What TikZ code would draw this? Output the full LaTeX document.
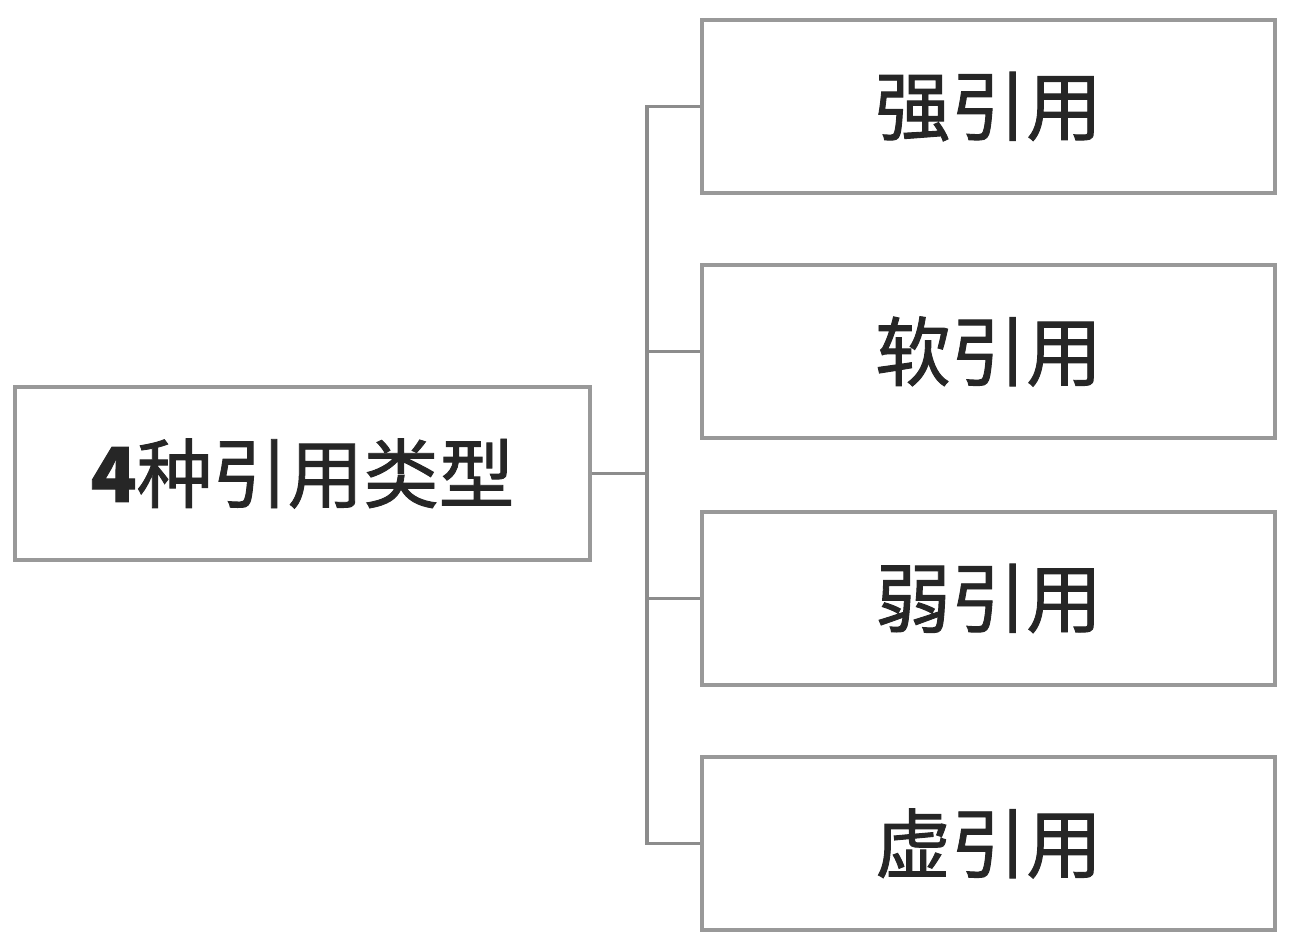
\documentclass[tikz,border=0pt]{standalone}
\usepackage{fontspec}
\newfontfamily\cjk[FakeBold=1.2]{Noto Sans CJK SC}
\begin{document}
\begin{tikzpicture}[x=0.02cm,y=-0.02cm,
  box/.style={draw=black!40,line width=1.8pt,minimum width=11.5cm,minimum height=3.46cm,inner sep=0pt,font=\cjk\fontsize{43}{45}\selectfont,text=black!85},
  link/.style={draw=black!45,line width=1.8pt}]
\useasboundingbox (0,0) rectangle (1300,942);
\node[box,minimum width=11.5cm] (root) at (302.5,473.5) {\textbf{4}种引用类型};
\node[box,minimum width=11.46cm] (a) at (988.5,106.5) {强引用};
\node[box,minimum width=11.46cm] (b) at (988.5,351.5) {软引用};
\node[box,minimum width=11.46cm] (c) at (988.5,598.5) {弱引用};
\node[box,minimum width=11.46cm] (d) at (988.5,843.5) {虚引用};
\coordinate (j) at (647,473.5);
\draw[link] (root.east) -- (j);
\draw[link] (a.west) -| (j) |- (d.west);
\draw[link] (j) |- (b.west);
\draw[link] (j) |- (c.west);
\end{tikzpicture}
\end{document}
